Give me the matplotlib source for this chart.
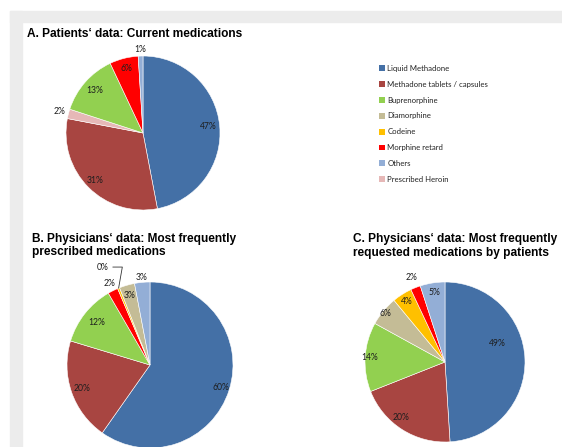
import matplotlib
matplotlib.use("Agg")
import matplotlib.pyplot as plt
from matplotlib.patches import Rectangle, Patch
import numpy as np

# legend categories and colours (order as in legend)
categories = ["Liquid Methadone", "Methadone tablets / capsules", "Buprenorphine",
              "Diamorphine", "Codeine", "Morphine retard", "Others", "Prescribed Heroin"]
colors = {"Liquid Methadone": "#4470a6", "Methadone tablets / capsules": "#a84541",
          "Buprenorphine": "#92d050", "Diamorphine": "#c4bc96", "Codeine": "#ffc000",
          "Morphine retard": "#ff0000", "Others": "#93aed6", "Prescribed Heroin": "#e6b8b7"}

# A. patients' current medications (clockwise from 12 o'clock)
a_labels = ["Liquid Methadone", "Methadone tablets / capsules", "Prescribed Heroin",
            "Buprenorphine", "Morphine retard", "Others"]
a_values = [47, 31, 2, 13, 6, 1]

# B. physicians: most frequently prescribed
b_labels = ["Liquid Methadone", "Methadone tablets / capsules", "Buprenorphine",
            "Morphine retard", "Codeine", "Diamorphine", "Others"]
b_values = [60, 20, 12, 2, 0.4, 3, 3]
b_text = ["60%", "20%", "12%", "2%", "0%", "3%", "3%"]

# C. physicians: most frequently requested by patients
c_labels = ["Liquid Methadone", "Methadone tablets / capsules", "Buprenorphine",
            "Diamorphine", "Codeine", "Morphine retard", "Others"]
c_values = [49, 20, 14, 6, 4, 2, 5]

W, H = 562, 447
fig = plt.figure(figsize=(W / 100, H / 100), dpi=100)
fig.patch.set_facecolor("white")

# grey frame
frame = "#ececec"
fig.patches.append(Rectangle((10 / W, 1 - 22 / H), 1, 11 / H, transform=fig.transFigure,
                             color=frame, zorder=0))
fig.patches.append(Rectangle((10 / W, 0), 12 / W, 1 - 11 / H, transform=fig.transFigure,
                             color=frame, zorder=0))

lab_font = dict(family="Lato", fontsize=6.2, color="#1e1e1e")


def draw_pie(cx, cy, r, labels, values, radii, texts=None, nudge=None):
    ax = fig.add_axes([(cx - r) / W, 1 - (cy + r) / H, 2 * r / W, 2 * r / H])
    ax.pie(values, colors=[colors[l] for l in labels], startangle=90, counterclock=False,
           radius=1, wedgeprops=dict(edgecolor="white", linewidth=0.4))
    ax.set_xlim(-1, 1)
    ax.set_ylim(-1, 1)
    ax.axis("off")
    total = float(sum(values))
    cum = 0.0
    mids = []
    for i, v in enumerate(values):
        mid = np.deg2rad(90 - (cum + v / 2) * 360 / total)
        cum += v
        if nudge is not None:
            mid += np.deg2rad(nudge[i])
        mids.append(mid)
        txt = texts[i] if texts else f"{v:g}%"
        if radii[i] is None:
            continue
        ax.text(radii[i] * np.cos(mid), radii[i] * np.sin(mid), txt,
                ha="center", va="center", **lab_font)
    return ax, mids


draw_pie(143, 133, 77, a_labels, a_values, [0.85, 0.88, 1.12, 0.83, 0.86, 1.09])

axb, mids_b = draw_pie(150, 365, 83, b_labels, b_values,
                       [0.9, 0.86, 0.82, 1.1, None, 0.87, 1.06], texts=b_text)
# leader line for the 0% slice
m = mids_b[4]
axb.annotate("0%", xy=(np.cos(m), np.sin(m)), xytext=(-0.57, 1.18),
             ha="center", va="center",
             arrowprops=dict(arrowstyle="-", color="#333333", lw=0.6,
                             connectionstyle="angle,angleA=0,angleB=80,rad=0",
                             shrinkA=1, shrinkB=0),
             **lab_font)

draw_pie(445, 362, 80, c_labels, c_values, [0.7, 0.88, 0.94, 0.96, 0.9, 1.14, 0.88],
         nudge=[18, -6, 0, 0, 0, 0, 0])

title_font = dict(family="Liberation Sans", fontsize=8.6, fontweight="bold", color="black")
fig.text(27 / W, 1 - 34 / H, "A. Patients\u2018 data: Current medications",
         ha="left", va="center", **title_font)
fig.text(32 / W, 1 - 245.5 / H, "B. Physicians\u2018 data: Most frequently\nprescribed medications",
         ha="left", va="center", linespacing=1.12, **title_font)
fig.text(353 / W, 1 - 246 / H,
         "C. Physicians\u2018 data: Most frequently\nrequested medications by patients",
         ha="left", va="center", linespacing=1.12, **title_font)

handles = [Patch(facecolor=colors[c], edgecolor="none") for c in categories]
fig.legend(handles, categories, loc="upper left", bbox_to_anchor=(375 / W, 1 - 61 / H),
           frameon=False, prop=dict(family="Lato", size=5.6), handlelength=0.8,
           handleheight=0.8, handletextpad=0.3, labelspacing=1.14, borderpad=0,
           labelcolor="#222222")

fig.savefig("out.png", dpi=100)
